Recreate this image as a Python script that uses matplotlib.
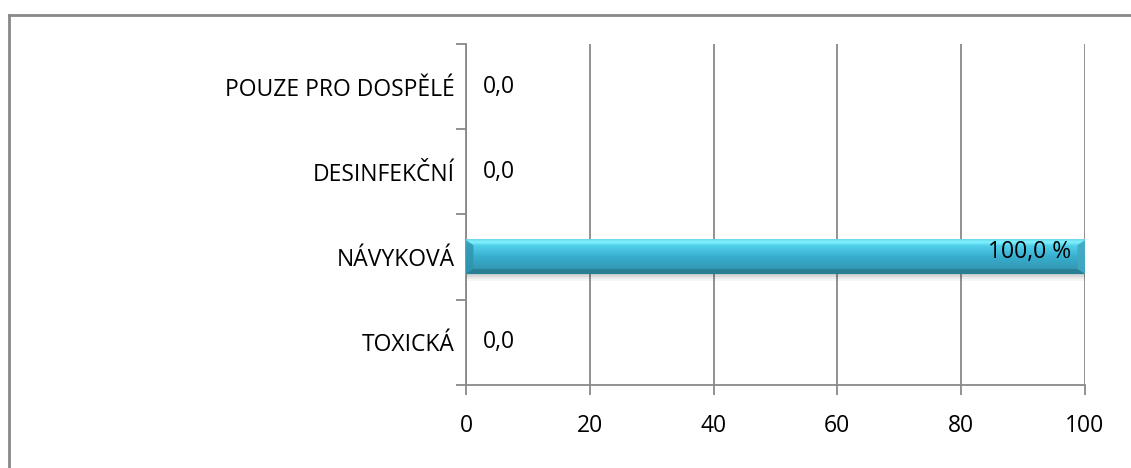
import matplotlib.pyplot as plt
import numpy as np
from matplotlib.colors import LinearSegmentedColormap
from matplotlib.lines import Line2D
from matplotlib.patches import Rectangle

categories = ['TOXICKÁ', 'NÁVYKOVÁ', 'DESINFEKČNÍ', 'POUZE PRO DOSPĚLÉ']
values = [0.0, 100.0, 0.0, 0.0]
labels = ['0,0', '100,0 %', '0,0', '0,0']
xticks = [0, 20, 40, 60, 80, 100]

plt.rcParams['font.family'] = ['Open Sans', 'DejaVu Sans']
grey = '#898989'
fs = 16.5

fig = plt.figure(figsize=(11.31, 4.68), dpi=100)
ax = fig.add_axes([0.412, 0.1774, 0.5473, 0.7286])

y = np.arange(len(categories))
bars = ax.barh(y, values, height=0.4, color='none', zorder=3)

# gradient fill + bevel on top of each non-empty bar
cmap = LinearSegmentedColormap.from_list('bar', [
    (0.0, '#2f8fa8'), (0.15, '#3399b5'), (0.5, '#38aecf'),
    (0.82, '#52d0ea'), (0.92, '#80f2ff'), (1.0, '#6ad8ea')])
for b, v in zip(bars, values):
    if v <= 0:
        continue
    x0, y0 = b.get_x(), b.get_y()
    w, h = b.get_width(), b.get_height()
    # soft shadow under the bar
    for k, a in enumerate([0.08, 0.05, 0.03]):
        ax.add_patch(Rectangle((x0, y0 - 0.03 - 0.025 * k), w, h, color='black',
                               alpha=a, lw=0, zorder=2))
    grad = np.linspace(0, 1, 64).reshape(-1, 1)
    ax.imshow(grad, cmap=cmap, aspect='auto', origin='lower',
              extent=(x0, x0 + w, y0, y0 + h), zorder=3)
    # bevel edges
    e = 0.06
    ex = 1.2
    ax.fill([x0, x0 + ex, x0 + ex, x0], [y0, y0 + e, y0 + h - e, y0 + h],
            color='#2f93ad', alpha=0.8, lw=0, zorder=4)
    ax.fill([x0 + w, x0 + w - ex, x0 + w - ex, x0 + w], [y0, y0 + e, y0 + h - e, y0 + h],
            color='#42a8c2', alpha=0.9, lw=0, zorder=4)
    ax.fill([x0, x0 + w, x0 + w - ex, x0 + ex], [y0, y0, y0 + e, y0 + e],
            color='#277a8e', alpha=0.8, lw=0, zorder=4)

for yi, v, lab in zip(y, values, labels):
    if v > 0:
        ax.annotate(lab, (v, yi), xytext=(-10, 4), textcoords='offset points',
                    ha='right', va='center', fontsize=fs, color='black', zorder=5)
    else:
        ax.annotate(lab, (v, yi), xytext=(12, 0), textcoords='offset points',
                    ha='left', va='center', fontsize=fs, color='black', zorder=5)

ax.set_xlim(0, 100)
ax.set_ylim(-0.5, len(categories) - 0.5)
ax.set_xticks(xticks)
ax.set_yticks(y)
ax.set_yticklabels(categories)
ax.set_yticks(np.arange(-0.5, len(categories)), minor=True)

ax.xaxis.grid(True, color=grey, lw=1.3, zorder=0)
ax.set_axisbelow(True)
for s in ['top', 'right']:
    ax.spines[s].set_visible(False)
for s in ['left', 'bottom']:
    ax.spines[s].set_color(grey)
    ax.spines[s].set_linewidth(1.3)

ax.tick_params(axis='x', length=7, color=grey, width=1.3, labelsize=fs, pad=14)
ax.tick_params(axis='y', which='major', length=0, labelsize=fs, pad=8)
ax.tick_params(axis='y', which='minor', length=7, color=grey, width=1.3)

# outer chart frame
fig.add_artist(Line2D([9 / 1131, 1], [1 - 15 / 468, 1 - 15 / 468], color=grey, lw=2))
fig.add_artist(Line2D([9 / 1131, 9 / 1131], [0, 1 - 15 / 468], color=grey, lw=2))

fig.savefig('out.png', dpi=100)
